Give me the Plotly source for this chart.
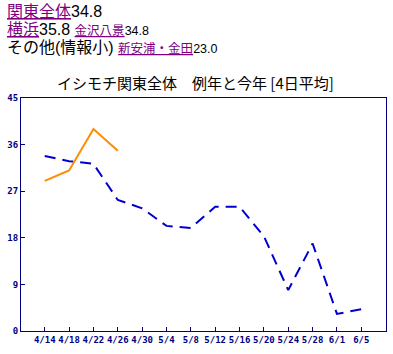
import plotly.graph_objects as go

# ---- data ----
dates = ["2023-04-14", "2023-04-18", "2023-04-22", "2023-04-26", "2023-04-30",
         "2023-05-04", "2023-05-08", "2023-05-12", "2023-05-16", "2023-05-20",
         "2023-05-24", "2023-05-28", "2023-06-01", "2023-06-05"]
tick_labels = ["4/14", "4/18", "4/22", "4/26", "4/30", "5/4", "5/8", "5/12",
               "5/16", "5/20", "5/24", "5/28", "6/1", "6/5"]
normal_year = [33.8, 32.8, 32.3, 25.3, 23.7, 20.3, 19.9, 24.0, 24.0, 18.3,
               7.9, 16.9, 3.3, 4.2]
this_year_dates = ["2023-04-14", "2023-04-18", "2023-04-22", "2023-04-26"]
this_year = [29.0, 31.0, 39.0, 34.8]
y_ticks = [0, 9, 18, 27, 36, 45]

title = "イシモチ関東全体　例年と今年 [4日平均]"

NAVY = "#000080"
BLUE = "#0000CC"
ORANGE = "#FF8C00"
PURPLE = "#800080"

W, H = 393, 354
L, R, T, B = 21, 7, 98, 23
pw, ph = W - L - R, H - T - B


def px(x):
    return (x - L) / pw


def py(y):
    return (H - B - y) / ph


fig = go.Figure()
fig.add_trace(go.Scatter(x=dates, y=normal_year, mode="lines",
                         line=dict(color=BLUE, width=2, dash="11px,7px"),
                         hoverinfo="skip", showlegend=False))
fig.add_trace(go.Scatter(x=this_year_dates, y=this_year, mode="lines",
                         line=dict(color=ORANGE, width=2),
                         hoverinfo="skip", showlegend=False))

tickfont = dict(family="DejaVu Sans Mono", size=9, color=NAVY, weight="bold")
fig.update_xaxes(type="date", range=["2023-04-10 02:24", "2023-06-09 01:26"],
                 tickvals=dates, ticktext=tick_labels, ticks="inside", ticklen=4,
                 tickcolor=NAVY, tickwidth=1, tickfont=tickfont,
                 showline=True, mirror=True, linecolor=NAVY, linewidth=1,
                 showgrid=False, zeroline=False, fixedrange=True)
fig.update_yaxes(range=[0, 45], tickvals=y_ticks, ticks="inside", ticklen=4,
                 tickcolor=NAVY, tickwidth=1, tickfont=tickfont,
                 showline=True, mirror=True, linecolor=NAVY, linewidth=1,
                 showgrid=False, zeroline=False, fixedrange=True)

FAM = "Liberation Sans, Noto Sans CJK JP"
lines = [
    (11, f'<span style="color:{PURPLE}"><u>関東全体</u></span>34.8'),
    (29, f'<span style="color:{PURPLE}"><u>横浜</u></span>35.8 '
         f'<span style="font-size:12.5px"><span style="color:{PURPLE}"><u>金沢八景</u></span>34.8</span>'),
    (47, f'その他(情報小) '
         f'<span style="font-size:12.5px"><span style="color:{PURPLE}"><u>新安浦・金田</u></span>23.0</span>'),
]
annotations = []
for yy, txt in lines:
    annotations.append(dict(text=txt, xref="paper", yref="paper", x=px(5), y=py(yy),
                            xanchor="left", yanchor="middle", showarrow=False,
                            font=dict(family=FAM, size=16, color="black")))
annotations.append(dict(text=title, xref="paper", yref="paper", x=px(195), y=py(82.5),
                        xanchor="center", yanchor="middle", showarrow=False,
                        font=dict(family="Noto Sans CJK JP", size=15, color="black")))

fig.update_layout(width=W, height=H, margin=dict(l=L, r=R, t=T, b=B, pad=0),
                  paper_bgcolor="white", plot_bgcolor="white",
                  annotations=annotations, showlegend=False)

fig.write_html("out.html", config={"displayModeBar": False})
